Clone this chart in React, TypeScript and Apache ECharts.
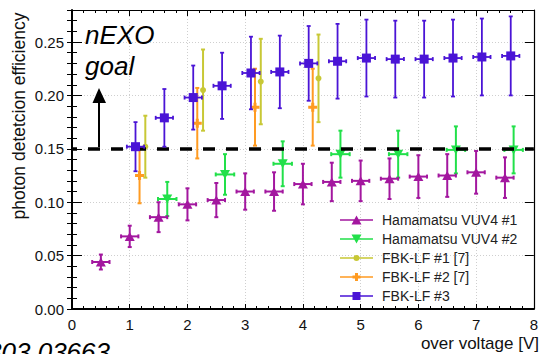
import { useEffect, useRef } from 'react';
import * as echarts from 'echarts';

// ---------- data ----------
const vuv1X = [0.5, 1.0, 1.5, 2.0, 2.5, 3.0, 3.5, 4.0, 4.5, 5.0, 5.5, 6.0, 6.5, 7.0, 7.5];
const vuv1Y = [0.044, 0.068, 0.086, 0.098, 0.102, 0.110, 0.110, 0.117, 0.119, 0.120, 0.122, 0.124, 0.125, 0.128, 0.123];
const vuv1YErr = [0.007, 0.010, 0.014, 0.015, 0.016, 0.017, 0.018, 0.019, 0.018, 0.019, 0.019, 0.020, 0.020, 0.020, 0.019];
const vuv1XErr = [0.15, 0.15, 0.15, 0.15, 0.15, 0.15, 0.15, 0.15, 0.15, 0.15, 0.15, 0.15, 0.15, 0.15, 0.15];

const vuv2X = [1.65, 2.65, 3.65, 4.65, 5.65, 6.65, 7.65];
const vuv2Y = [0.103, 0.126, 0.136, 0.145, 0.145, 0.149, 0.149];
const vuv2YErr = [0.016, 0.019, 0.021, 0.022, 0.022, 0.022, 0.022];
const vuv2XErr = [0.16, 0.16, 0.16, 0.16, 0.16, 0.16, 0.16];

const fbk1X = [1.27, 2.27, 3.27, 4.27];
const fbk1Y = [0.152, 0.205, 0.213, 0.216];
const fbk1YErr = [0.029, 0.038, 0.040, 0.041];

const fbk2X = [1.17, 2.17, 3.17, 4.17];
const fbk2Y = [0.125, 0.174, 0.189, 0.189];
const fbk2YErr = [0.026, 0.033, 0.036, 0.036];

const fbk3X = [1.1, 1.6, 2.1, 2.6, 3.1, 3.6, 4.1, 4.6, 5.1, 5.6, 6.1, 6.6, 7.1, 7.6];
const fbk3Y = [0.152, 0.179, 0.198, 0.209, 0.221, 0.222, 0.230, 0.232, 0.235, 0.234, 0.234, 0.235, 0.236, 0.237];
const fbk3YErr = [0.023, 0.027, 0.030, 0.031, 0.034, 0.034, 0.035, 0.035, 0.036, 0.036, 0.036, 0.036, 0.036, 0.037];
const fbk3XErr = [0.15, 0.15, 0.15, 0.15, 0.15, 0.15, 0.15, 0.15, 0.15, 0.15, 0.15, 0.15, 0.15, 0.15];

const seriesNames = ['Hamamatsu VUV4 #1', 'Hamamatsu VUV4 #2', 'FBK-LF #1 [7]', 'FBK-LF #2 [7]', 'FBK-LF #3'];
const goalValue = 0.15;
const xTickValues = [0, 8];
const yTickValues = [0, 0.28];

const FONT = "'Liberation Sans', Arial, Helvetica, sans-serif";
const C_MAG = '#a3179f';
const C_GRN = '#22e04a';
const C_OLV = '#c8c835';
const C_ORG = '#ff9b22';
const C_BLU = '#4a14d6';

const LINE = 'M0 3.75 L33 3.75 L33 5.25 L0 5.25 Z ';
const ICON_TRI_UP = 'path://' + LINE + 'M16.5 0 L21.5 9 L11.5 9 Z';
const ICON_TRI_DN = 'path://' + LINE + 'M11.5 0 L21.5 0 L16.5 9 Z';
const ICON_CIRC = 'path://' + LINE + 'M13.5 4.5 A3 3 0 1 1 19.5 4.5 A3 3 0 1 1 13.5 4.5 Z';
const ICON_PLUS = 'path://' + LINE + 'M15 0.5 L18 0.5 L18 3 L20.5 3 L20.5 6 L18 6 L18 8.5 L15 8.5 L15 6 L12.5 6 L12.5 3 L15 3 Z';
const ICON_SQ = 'path://' + LINE + 'M12.5 0.5 L20.5 0.5 L20.5 8.5 L12.5 8.5 Z';
const PLUS_SYMBOL = 'path://M3 0 L6 0 L6 3 L9 3 L9 6 L6 6 L6 9 L3 9 L3 6 L0 6 L0 3 L3 3 Z';

function errData(xs: number[], ys: number[], eys: number[], exs?: number[]) {
  return xs.map((x, i) => [x, ys[i], eys[i], exs ? exs[i] : 0]);
}

function errSeries(name: string, data: number[][], color: string, lw: number, cap: number) {
  return {
    type: 'custom',
    name,
    data,
    encode: { x: 0, y: 1 },
    itemStyle: { color },
    z: 2,
    silent: true,
    renderItem: (_p: any, api: any) => {
      const x = api.value(0), y = api.value(1), ey = api.value(2), ex = api.value(3);
      const t = api.coord([x, y + ey]);
      const b = api.coord([x, y - ey]);
      const st = { stroke: color, lineWidth: lw };
      const children: any[] = [
        { type: 'line', shape: { x1: t[0], y1: t[1], x2: b[0], y2: b[1] }, style: st },
        { type: 'line', shape: { x1: t[0] - cap, y1: t[1], x2: t[0] + cap, y2: t[1] }, style: st },
        { type: 'line', shape: { x1: b[0] - cap, y1: b[1], x2: b[0] + cap, y2: b[1] }, style: st },
      ];
      if (ex > 0) {
        const l = api.coord([x - ex, y]);
        const r = api.coord([x + ex, y]);
        children.push(
          { type: 'line', shape: { x1: l[0], y1: l[1], x2: r[0], y2: r[1] }, style: st },
          { type: 'line', shape: { x1: l[0], y1: l[1] - cap, x2: l[0], y2: l[1] + cap }, style: st },
          { type: 'line', shape: { x1: r[0], y1: r[1] - cap, x2: r[0], y2: r[1] + cap }, style: st },
        );
      }
      return { type: 'group', children };
    },
  };
}

function pts(xs: number[], ys: number[]) {
  return xs.map((x, i) => [x, ys[i]]);
}

export default function App() {
  const ref = useRef<HTMLDivElement>(null);
  useEffect(() => {
    document.body.style.margin = '0';
    if (!ref.current) return;
    const chart = echarts.init(ref.current, undefined, { renderer: 'svg' });
    const dotted = { color: '#cfcfcf', type: [1, 2] as any, width: 1 };
    const baseX = { type: 'value', min: xTickValues[0], max: xTickValues[1], gridIndex: 0 };
    const baseY = { type: 'value', min: yTickValues[0], max: yTickValues[1], gridIndex: 0 };
    chart.setOption({
      animation: false,
      backgroundColor: '#ffffff',
      grid: { left: 72, top: 10, right: 1, bottom: 45, containLabel: false },
      xAxis: [
        {
          ...baseX, interval: 1, position: 'bottom',
          axisLine: { show: true, onZero: false, lineStyle: { color: '#000', width: 2 } },
          axisTick: { show: true, inside: true, length: 5, lineStyle: { color: '#000', width: 1 } },
          minorTick: { show: true, splitNumber: 5, length: 3, lineStyle: { color: '#000', width: 1 } },
          axisLabel: { fontSize: 15, color: '#111', fontFamily: FONT, margin: 8 },
          splitLine: { show: true, lineStyle: dotted },
        },
        {
          ...baseX, interval: 1, position: 'top',
          axisLine: { show: true, onZero: false, lineStyle: { color: '#000', width: 1.2 } },
          axisTick: { show: true, inside: true, length: 6, lineStyle: { color: '#000', width: 1 } },
          minorTick: { show: true, splitNumber: 5, length: 3, lineStyle: { color: '#000', width: 1 } },
          axisLabel: { show: false },
          splitLine: { show: false },
        },
      ],
      yAxis: [
        {
          ...baseY, interval: 0.05, position: 'left',
          axisLine: { show: true, onZero: false, lineStyle: { color: '#000', width: 2 } },
          axisTick: { show: true, inside: true, length: 10, lineStyle: { color: '#000', width: 1 } },
          axisLabel: {
            fontSize: 15, color: '#111', fontFamily: FONT, margin: 8,
            formatter: (v: number) => (Math.round(v * 100) % 5 === 0 ? v.toFixed(2) : ''),
          },
          splitLine: { show: true, lineStyle: dotted },
        },
        {
          ...baseY, interval: 0.01, position: 'left',
          axisLine: { show: false },
          axisTick: { show: true, inside: true, length: 5, lineStyle: { color: '#000', width: 1 } },
          axisLabel: { show: false },
          splitLine: { show: false },
        },
        {
          ...baseY, interval: 0.05, position: 'right',
          axisLine: { show: true, onZero: false, lineStyle: { color: '#000', width: 1.2 } },
          axisTick: { show: true, inside: true, length: 9, lineStyle: { color: '#000', width: 1 } },
          axisLabel: { show: false },
          splitLine: { show: false },
        },
        {
          ...baseY, interval: 0.01, position: 'right',
          axisLine: { show: false },
          axisTick: { show: true, inside: true, length: 5, lineStyle: { color: '#000', width: 1 } },
          axisLabel: { show: false },
          splitLine: { show: false },
        },
      ],
      legend: {
        orient: 'vertical',
        left: 340,
        top: 213,
        itemWidth: 33,
        itemHeight: 9,
        itemGap: 5,
        padding: 0,
        textStyle: { fontSize: 14, color: '#222', fontFamily: FONT, padding: [0, 0, 0, 4] },
        data: [
          { name: seriesNames[0], icon: ICON_TRI_UP },
          { name: seriesNames[1], icon: ICON_TRI_DN },
          { name: seriesNames[2], icon: ICON_CIRC },
          { name: seriesNames[3], icon: ICON_PLUS },
          { name: seriesNames[4], icon: ICON_SQ },
        ],
      },
      series: [
        { type: 'scatter', name: seriesNames[2], data: pts(fbk1X, fbk1Y), symbol: 'circle', symbolSize: 6, itemStyle: { color: C_OLV, opacity: 1 }, z: 3 },
        { type: 'scatter', name: seriesNames[3], data: pts(fbk2X, fbk2Y), symbol: PLUS_SYMBOL, symbolSize: 9, itemStyle: { color: C_ORG, opacity: 1 }, z: 3 },
        { type: 'scatter', name: seriesNames[1], data: pts(vuv2X, vuv2Y), symbol: 'triangle', symbolRotate: 180, symbolSize: [10, 9], itemStyle: { color: C_GRN, opacity: 1 }, z: 3 },
        { type: 'scatter', name: seriesNames[0], data: pts(vuv1X, vuv1Y), symbol: 'triangle', symbolSize: [10, 9], itemStyle: { color: C_MAG, opacity: 1 }, z: 3 },
        {
          type: 'scatter', name: seriesNames[4], data: pts(fbk3X, fbk3Y), symbol: 'rect', symbolSize: 9,
          itemStyle: { color: C_BLU, opacity: 1 }, z: 6,
        },
        errSeries(seriesNames[2], errData(fbk1X, fbk1Y, fbk1YErr), C_OLV, 2, 2),
        errSeries(seriesNames[3], errData(fbk2X, fbk2Y, fbk2YErr), C_ORG, 2, 2),
        errSeries(seriesNames[1], errData(vuv2X, vuv2Y, vuv2YErr, vuv2XErr), C_GRN, 2, 2),
        errSeries(seriesNames[0], errData(vuv1X, vuv1Y, vuv1YErr, vuv1XErr), C_MAG, 2, 2),
        {
          ...errSeries(seriesNames[4], errData(fbk3X, fbk3Y, fbk3YErr, fbk3XErr), C_BLU, 1.8, 2),
          z: 5,
          markLine: {
            silent: true,
            symbol: ['none', 'none'],
            label: { show: false },
            z: 4,
            lineStyle: { color: '#000', width: 3.5, type: [12, 11], dashOffset: 7 },
            data: [[{ coord: [xTickValues[0], goalValue] }, { coord: [xTickValues[1], goalValue] }]],
          },
        },
      ],
      graphic: [
        {
          type: 'text', x: 85, y: 19, z: 10,
          style: { text: 'nEXO\ngoal', font: `italic 26px ${FONT}`, fill: '#000', lineHeight: 31 },
        },
        { type: 'line', z: 10, shape: { x1: 99, y1: 147, x2: 99, y2: 102 }, style: { stroke: '#000', lineWidth: 2 } },
        { type: 'polygon', z: 10, shape: { points: [[92.5, 103], [106, 103], [99, 88]] }, style: { fill: '#000' } },
        {
          type: 'text', x: 19, y: 116, rotation: Math.PI / 2, z: 10,
          style: { text: 'photon detetcion efficiency', font: `17.5px ${FONT}`, fill: '#111', align: 'center', verticalAlign: 'middle' },
        },
        {
          type: 'text', x: 539, y: 343, z: 10,
          style: { text: 'over voltage [V]', font: `17px ${FONT}`, fill: '#111', align: 'right', verticalAlign: 'middle' },
        },
        {
          type: 'text', x: 110, y: 352, z: 10,
          style: { text: 'arXiv:1803.03663', font: `italic 26px ${FONT}`, fill: '#000', align: 'right', verticalAlign: 'middle' },
        },
      ],
    });
    return () => chart.dispose();
  }, []);
  return <div ref={ref} style={{ width: 541, height: 354 }} />;
}
